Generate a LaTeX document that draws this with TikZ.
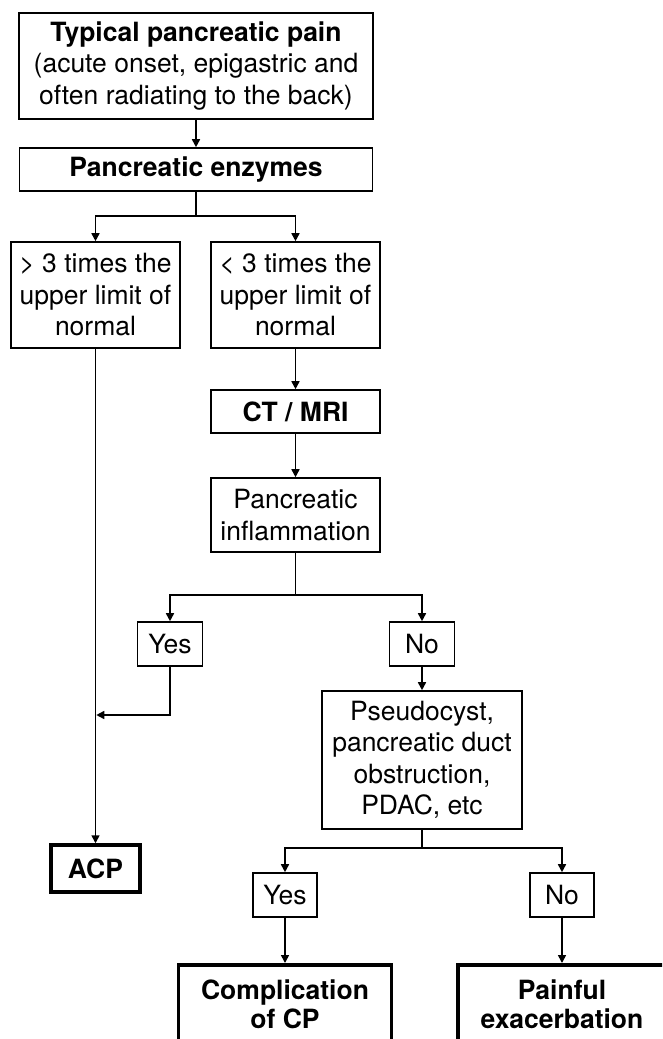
\documentclass[tikz,border=0pt]{standalone}
\usepackage{fontspec}
\setmainfont{TeX Gyre Heros}
\usetikzlibrary{arrows.meta}
\begin{document}
\begin{tikzpicture}[x=1pt,y=-1pt,
  every node/.style={font=\fontsize{26.5}{31.5}\selectfont},
  box/.style={draw=black,line width=1.6pt,inner sep=0pt,align=center},
  endbox/.style={box,line width=3.5pt,font=\fontsize{26.5}{31.5}\selectfont\bfseries},
  arr/.style={line width=1.6pt,-{Triangle[length=8pt,width=8pt]}},
  ln/.style={line width=1.6pt}]
\clip (0,0) rectangle (662,1039);
\fill[white] (0,0) rectangle (662,1039);
% nodes
\node[box,minimum width=354pt,minimum height=106pt] (b1) at (196,66)
  {\textbf{Typical pancreatic pain}\\(acute onset, epigastric and\\often radiating to the back)};
\node[box,minimum width=353pt,minimum height=43pt,font=\fontsize{26.5}{31.5}\selectfont\bfseries] (b2) at (196,169.5)
  {Pancreatic enzymes};
\node[box,minimum width=169pt,minimum height=106pt] (b3) at (95.5,295)
  {> 3 times the\\upper limit of\\normal};
\node[box,minimum width=169pt,minimum height=106pt] (b4) at (295.5,295)
  {< 3 times the\\upper limit of\\normal};
\node[box,minimum width=169pt,minimum height=43pt,font=\fontsize{26.5}{31.5}\selectfont\bfseries] (ct) at (295.5,411.5)
  {CT / MRI};
\node[box,minimum width=169pt,minimum height=74pt] (inf) at (295.5,515)
  {Pancreatic\\inflammation};
\node[box,minimum width=65pt,minimum height=44pt] (y1) at (170,644) {Yes};
\node[box,minimum width=65pt,minimum height=44pt] (n1) at (422,644) {No};
\node[box,minimum width=200pt,minimum height=138pt] (ps) at (422,760)
  {Pseudocyst,\\pancreatic duct\\obstruction,\\PDAC, etc};
\node[endbox,minimum width=89pt,minimum height=47pt] (acp) at (95.5,868.5) {ACP};
\node[box,minimum width=64pt,minimum height=44pt] (y2) at (285,895) {Yes};
\node[box,minimum width=64pt,minimum height=44pt] (n2) at (562,895) {No};
\node[endbox,minimum width=213pt,minimum height=90pt,anchor=north] (cp) at (285,963) {};
\node[endbox,minimum width=240pt,minimum height=90pt,anchor=north west] (pe) at (456,963) {};
\node[font=\fontsize{26.5}{29}\selectfont\bfseries,align=center,inner sep=0pt] (cpt) at (285,1004)
  {Complication\\of CP};
\node[font=\fontsize{26.5}{29}\selectfont\bfseries,align=center,inner sep=0pt] (pet) at (562,1004)
  {Painful\\exacerbation};
% junctions
\coordinate (j1) at (0,216);
\coordinate (j2) at (0,595);
\coordinate (j3) at (0,715);
\coordinate (j4) at (0,848);
% connectors
\draw[arr] (b1.south) -- (b1.south |- b2.north);
\draw[ln] (b2.south) -- (b2.south |- j1);
\draw[arr] (b2.south |- j1) -| (b3.north);
\draw[arr] (b2.south |- j1) -| (b4.north);
\draw[arr] (b3.south) -- (acp.north);
\draw[arr] (b4.south) -- (ct.north);
\draw[arr] (ct.south) -- (inf.north);
\draw[ln] (inf.south) -- (inf.south |- j2);
\draw[arr] (inf.south |- j2) -| (y1.north);
\draw[arr] (inf.south |- j2) -| (n1.north);
\draw[arr] (y1.south) |- ([xshift=0.8pt]acp.north |- j3);
\draw[arr] (n1.south) -- (ps.north);
\draw[ln] (ps.south) -- (ps.south |- j4);
\draw[arr] (ps.south |- j4) -| (y2.north);
\draw[arr] (ps.south |- j4) -| (n2.north);
\draw[arr] (y2.south) -- (cp.north);
\draw[arr] (n2.south) -- (n2.south |- pe.north);
\end{tikzpicture}
\end{document}
